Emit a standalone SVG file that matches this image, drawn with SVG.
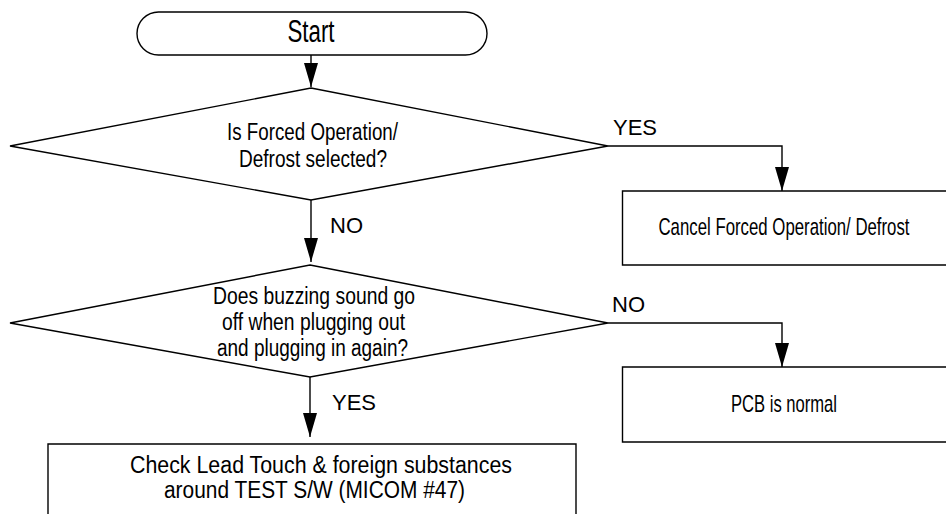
<svg xmlns="http://www.w3.org/2000/svg" width="946" height="514" viewBox="0 0 946 514">
<style>
  .shape { fill: #ffffff; stroke: #000000; stroke-width: 1.4; }
  .edge { fill: none; stroke: #000000; stroke-width: 1.4; }
  .narrow { font-family: "Liberation Sans Narrow", "Liberation Sans", Arial, sans-serif; fill: #000000; text-anchor: middle; }
  .lbl { font-family: "Liberation Sans", Arial, sans-serif; font-size: 22px; fill: #000000; }
</style>
<defs>
  <marker id="arrow" viewBox="0 0 24 14" refX="24" refY="7" markerWidth="24" markerHeight="14" markerUnits="userSpaceOnUse" orient="auto">
    <path d="M0,0 L24,7 L0,14 z" fill="#000000"/>
  </marker>
</defs>
<rect width="946" height="514" fill="#ffffff"/>

<g id="start">
  <rect class="shape" x="137" y="12" width="350" height="43" rx="21.5" ry="21.5"/>
  <text class="narrow" x="311" y="42" font-size="31" textLength="47" lengthAdjust="spacingAndGlyphs">Start</text>
</g>

<g id="decision1">
  <polygon class="shape" points="311,88 608,146 311,200 10,146"/>
  <text class="narrow" x="312.5" y="140" font-size="23" textLength="171" lengthAdjust="spacingAndGlyphs">Is Forced Operation/</text>
  <text class="narrow" x="313" y="166.5" font-size="23" textLength="148" lengthAdjust="spacingAndGlyphs">Defrost selected?</text>
</g>

<g id="cancel">
  <path class="shape" d="M946,191 H622.5 V265 H946"/>
  <text class="narrow" transform="translate(784,235) scale(0.7,1)" x="0" y="0" font-size="24">Cancel Forced Operation/ Defrost</text>
</g>

<g id="decision2">
  <polygon class="shape" points="310,265 608,323 310,377 10,323"/>
  <text class="narrow" x="314" y="304" font-size="23" textLength="202" lengthAdjust="spacingAndGlyphs">Does buzzing sound go</text>
  <text class="narrow" x="313.5" y="329.5" font-size="23" textLength="183" lengthAdjust="spacingAndGlyphs">off when plugging out</text>
  <text class="narrow" x="312.5" y="355.5" font-size="23" textLength="191" lengthAdjust="spacingAndGlyphs">and plugging in again?</text>
</g>

<g id="pcb">
  <path class="shape" d="M946,367 H622.5 V442 H946"/>
  <text class="narrow" x="784" y="411.5" font-size="24" textLength="106" lengthAdjust="spacingAndGlyphs">PCB is normal</text>
</g>

<g id="check">
  <path class="shape" d="M48,514 V444 H576 V514"/>
  <text class="narrow" x="321" y="473" font-size="23" textLength="382" lengthAdjust="spacingAndGlyphs">Check Lead Touch &amp; foreign substances</text>
  <text class="narrow" x="314.5" y="498" font-size="23" textLength="301" lengthAdjust="spacingAndGlyphs">around TEST S/W (MICOM #47)</text>
</g>

<g id="connectors">
  <line class="edge" x1="311" y1="55" x2="311" y2="87" marker-end="url(#arrow)"/>
  <line class="edge" x1="311" y1="200" x2="311" y2="262" marker-end="url(#arrow)"/>
  <path class="edge" d="M608,146 H782 V191" marker-end="url(#arrow)"/>
  <path class="edge" d="M608,323 H782 V367" marker-end="url(#arrow)"/>
  <line class="edge" x1="310" y1="377" x2="310" y2="437" marker-end="url(#arrow)"/>
  <text class="lbl" x="613" y="135">YES</text>
  <text class="lbl" x="330" y="233">NO</text>
  <text class="lbl" x="612" y="312">NO</text>
  <text class="lbl" x="332" y="410">YES</text>
</g>
</svg>
